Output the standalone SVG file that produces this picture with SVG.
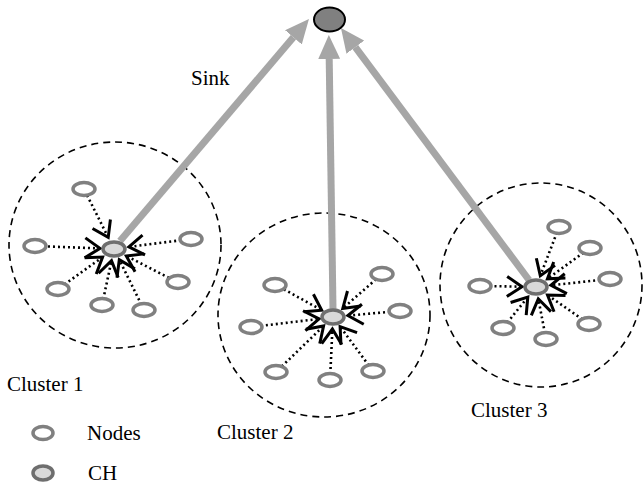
<svg xmlns="http://www.w3.org/2000/svg" width="643" height="486" viewBox="0 0 643 486">
<style>
.cluster{fill:none;stroke:#000;stroke-width:1.6;stroke-dasharray:7 5}
.node{fill:#fff;stroke:#808080;stroke-width:3.5}
.ch{fill:#d9d9d9;stroke:#6e6e6e;stroke-width:3.5}
.sink{fill:#808080;stroke:#000;stroke-width:2}
.dot{stroke:#000;stroke-width:2.6;stroke-dasharray:2 3;fill:none;marker-end:url(#open)}
.up{stroke:#a6a6a6;stroke-width:7;fill:none;marker-end:url(#head)}
text{font-family:"Liberation Serif","Times New Roman",serif;font-size:21px;fill:#000}
</style>
<defs>
<marker id="open" viewBox="0 0 18 22" refX="16" refY="11" markerWidth="18" markerHeight="22" markerUnits="userSpaceOnUse" orient="auto" overflow="visible">
<path d="M1,1 L16,11 L1,21" fill="none" stroke="#000" stroke-width="3" stroke-linejoin="miter"/>
</marker>
<marker id="head" viewBox="0 0 24 22" refX="0" refY="11" markerWidth="24" markerHeight="22" markerUnits="userSpaceOnUse" orient="auto">
<path d="M0,0 L24,11 L0,22 z" fill="#a6a6a6"/>
</marker>
</defs>

<g id="clusters">
<ellipse id="cluster1-area" class="cluster" cx="115" cy="245" rx="106" ry="103"/>
<ellipse id="cluster2-area" class="cluster" cx="324" cy="315" rx="106" ry="102"/>
<ellipse id="cluster3-area" class="cluster" cx="541" cy="285" rx="101" ry="102"/>
</g>

<g id="connectors">
<line class="up" x1="120" y1="241" x2="293.4" y2="37.3"/>
<line class="up" x1="333" y1="309" x2="329.2" y2="59"/>
<line class="up" x1="529" y1="280" x2="355.3" y2="47.2"/>

<line class="dot" x1="87.1" y1="195.3" x2="108.2" y2="237.4"/>
<line class="dot" x1="43" y1="246.3" x2="100" y2="248.4"/>
<line class="dot" x1="181.1" y1="240.2" x2="128.9" y2="246.9"/>
<line class="dot" x1="169" y1="277.9" x2="126.3" y2="255.9"/>
<line class="dot" x1="64.5" y1="284.4" x2="102.6" y2="257.1"/>
<line class="dot" x1="103.3" y1="299.1" x2="111.5" y2="260.7"/>
<line class="dot" x1="141.4" y1="304.6" x2="119.3" y2="259.8"/>

<line class="dot" x1="283.9" y1="289.3" x2="321.7" y2="310.2"/>
<line class="dot" x1="260.9" y1="325.9" x2="319.1" y2="318.9"/>
<line class="dot" x1="376" y1="279.3" x2="342.8" y2="308.4"/>
<line class="dot" x1="390" y1="311.8" x2="347.9" y2="315.6"/>
<line class="dot" x1="281.8" y1="366.4" x2="323.6" y2="326"/>
<line class="dot" x1="330.3" y1="374" x2="332.4" y2="329"/>
<line class="dot" x1="368.8" y1="365.4" x2="340.1" y2="326.6"/>

<line class="dot" x1="489.5" y1="286.1" x2="522" y2="286.7"/>
<line class="dot" x1="556.9" y1="232.6" x2="540.3" y2="275.8"/>
<line class="dot" x1="583.5" y1="252.7" x2="547.4" y2="278.8"/>
<line class="dot" x1="600.1" y1="280" x2="550.9" y2="285.3"/>
<line class="dot" x1="582.4" y1="319.4" x2="547.5" y2="295"/>
<line class="dot" x1="544.9" y1="333.1" x2="538.3" y2="298.8"/>
<line class="dot" x1="507.4" y1="322.5" x2="527.8" y2="297.1"/>
</g>

<g id="sink"><ellipse class="sink" cx="329.5" cy="19.5" rx="15.5" ry="12"/><text x="191" y="85">Sink</text></g>

<g id="cluster1">
<ellipse class="node" cx="84" cy="189" rx="11" ry="6.5"/>
<ellipse class="node" cx="35" cy="246" rx="11" ry="6.5"/>
<ellipse class="node" cx="191" cy="239" rx="11" ry="6.5"/>
<ellipse class="node" cx="178" cy="282" rx="11" ry="6.5"/>
<ellipse class="node" cx="58" cy="289" rx="11" ry="6.5"/>
<ellipse class="node" cx="102" cy="305" rx="11" ry="6.5"/>
<ellipse class="node" cx="144" cy="310" rx="11" ry="6.5"/>
<ellipse id="ch1" class="ch" cx="114" cy="249" rx="11" ry="7"/>
<text x="7" y="391">Cluster 1</text>
</g>

<g id="cluster2">
<ellipse class="node" cx="275" cy="285" rx="11" ry="6.5"/>
<ellipse class="node" cx="251" cy="327" rx="11" ry="6.5"/>
<ellipse class="node" cx="382" cy="274" rx="11" ry="6.5"/>
<ellipse class="node" cx="400" cy="311" rx="11" ry="6.5"/>
<ellipse class="node" cx="276" cy="372" rx="11" ry="6.5"/>
<ellipse class="node" cx="330" cy="380" rx="11" ry="6.5"/>
<ellipse class="node" cx="373" cy="371" rx="11" ry="6.5"/>
<ellipse id="ch2" class="ch" cx="333" cy="317" rx="11" ry="7"/>
<text x="217" y="439">Cluster 2</text>
</g>

<g id="cluster3">
<ellipse class="node" cx="480" cy="286" rx="11" ry="6.5"/>
<ellipse class="node" cx="559" cy="227" rx="11" ry="6.5"/>
<ellipse class="node" cx="590" cy="248" rx="11" ry="6.5"/>
<ellipse class="node" cx="610" cy="279" rx="11" ry="6.5"/>
<ellipse class="node" cx="589" cy="324" rx="11" ry="6.5"/>
<ellipse class="node" cx="546" cy="339" rx="11" ry="6.5"/>
<ellipse class="node" cx="503" cy="328" rx="11" ry="6.5"/>
<ellipse id="ch3" class="ch" cx="536" cy="287" rx="11" ry="7"/>
<text x="471" y="417">Cluster 3</text>
</g>

<g id="legend">
<ellipse class="node" cx="43" cy="433" rx="10" ry="6.5"/>
<text x="87" y="440">Nodes</text>
<ellipse class="ch" cx="43" cy="473" rx="10" ry="7"/>
<text x="88" y="480">CH</text>
</g>
</svg>
